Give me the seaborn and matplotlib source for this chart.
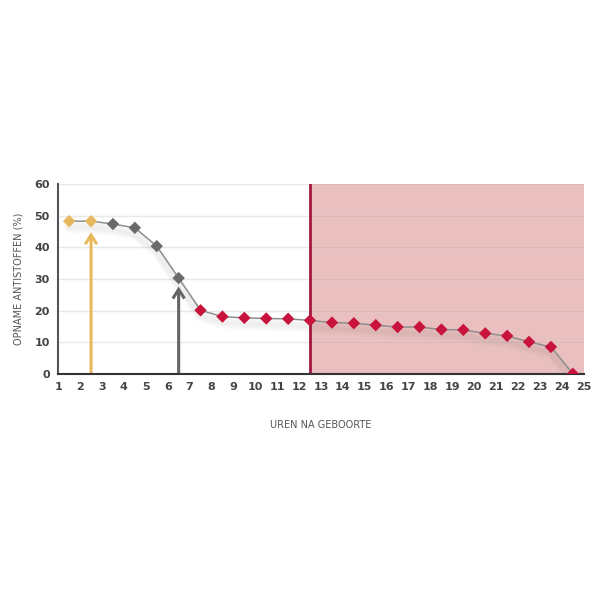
import matplotlib
matplotlib.use("Agg")
import matplotlib.pyplot as plt
import matplotlib.transforms as mtransforms
import seaborn as sns
import pandas as pd

hours = [1.5, 2.5, 3.5, 4.5, 5.5, 6.5, 7.5, 8.5, 9.5, 10.5, 11.5, 12.5,
         13.5, 14.5, 15.5, 16.5, 17.5, 18.5, 19.5, 20.5, 21.5, 22.5, 23.5, 24.5]
uptake = [48.3, 48.3, 47.4, 46.2, 40.4, 30.3, 20.1, 18.1, 17.7, 17.5, 17.4, 16.9,
          16.2, 16.0, 15.4, 14.8, 14.8, 14.0, 13.9, 12.8, 12.0, 10.1, 8.5, 0.0]
phase = ["early"] * 2 + ["mid"] * 4 + ["late"] * 18
x_ticks = list(range(1, 26))
y_ticks = [0, 10, 20, 30, 40, 50, 60]
arrow_x = [2.5, 6.5]
arrow_top = [44.8, 27.6]
cutoff_hour = 12.5

palette = {"early": "#e8b95c", "mid": "#6b6b6b", "late": "#c8143c"}
arrow_colors = ["#e8b95c", "#666666"]

df = pd.DataFrame({"hour": hours, "uptake": uptake, "phase": phase})

sns.set_theme(style="white")
plt.rcParams["font.family"] = ["DejaVu Sans"]

fig = plt.figure(figsize=(6, 6), dpi=100)
ax = fig.add_axes([0.097, 0.377, 0.876, 0.316])

# shaded late zone
ax.axvspan(cutoff_hour, 25, color="#e9c0bf", zorder=0, lw=0)
ax.axvline(cutoff_hour, color="#a3163f", lw=2, zorder=1)

# grid
for yv in y_ticks[1:]:
    ax.axhline(yv, color="#e8e8e8", lw=1, zorder=0.5)
    ax.plot([cutoff_hour, 25], [yv, yv], color="#e2b6b5", lw=1, zorder=0.6)

# soft shadow
for off, a in [(3, 0.035), (4.5, 0.03), (6, 0.025)]:
    tr = mtransforms.offset_copy(ax.transData, fig=fig, x=0, y=-off, units="points")
    ax.plot(hours, uptake, color="#555555", lw=6, alpha=a, transform=tr, zorder=1.5,
            solid_capstyle="round")

sns.lineplot(data=df, x="hour", y="uptake", color="#8e8e8e", lw=1.1, ax=ax,
             zorder=2, legend=False)
sns.scatterplot(data=df, x="hour", y="uptake", hue="phase", palette=palette,
                marker="D", s=40, edgecolor="none", ax=ax, zorder=3, legend=False)

for xv, top, c in zip(arrow_x, arrow_top, arrow_colors):
    ax.annotate("", xy=(xv, top), xytext=(xv, 0),
                arrowprops=dict(arrowstyle="->,head_width=0.35,head_length=0.55",
                                color=c, lw=2.2, shrinkA=0, shrinkB=0,
                                joinstyle="miter", capstyle="butt"),
                zorder=2.5)

ax.set_xlim(1, 25)
ax.set_ylim(0, 60)
ax.set_xticks(x_ticks)
ax.set_yticks(y_ticks)
ax.set_xticklabels([str(t) for t in x_ticks], fontsize=8, fontweight="bold", color="#444444")
ax.set_yticklabels([str(t) for t in y_ticks], fontsize=8, fontweight="bold", color="#444444")
ax.tick_params(axis="both", length=0, pad=6)

for s in ["top", "right"]:
    ax.spines[s].set_visible(False)
ax.spines["left"].set_color("#555555")
ax.spines["left"].set_linewidth(1.5)
ax.spines["bottom"].set_color("#333333")
ax.spines["bottom"].set_linewidth(1.5)

ax.set_xlabel("UREN NA GEBOORTE", fontsize=7, color="#555555", labelpad=20)
ax.set_ylabel("OPNAME ANTISTOFFEN (%)", fontsize=7, color="#555555", labelpad=8)

fig.savefig("out.png", dpi=100, facecolor="white")
